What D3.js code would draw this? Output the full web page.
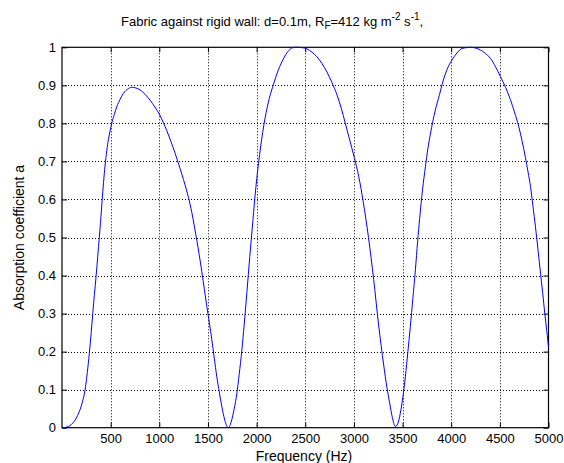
<!DOCTYPE html>
<html>
<head>
<meta charset="utf-8">
<script src="https://cdn.jsdelivr.net/npm/d3@7"></script>
<style>
  body { margin: 0; background: #fff; }
  svg { display: block; font-family: "Liberation Sans", Arial, sans-serif; }
</style>
</head>
<body>
<svg width="564" height="463"></svg>
<script>
// frequency (Hz) and absorption coefficient
var freq = [0, 25, 50, 80, 110, 135, 160, 185, 210, 237, 260, 281, 300, 316, 333, 350, 367, 384, 400, 412,
  427, 442, 460, 477, 495, 511, 537, 563, 597, 631, 675, 717, 760, 802, 855, 905, 955, 1001, 1040, 1077,
  1120, 1163, 1200, 1231, 1265, 1300, 1334, 1360, 1386, 1410, 1437, 1463, 1489, 1515, 1540, 1565, 1591, 1617, 1643, 1670,
  1690, 1711, 1730, 1746, 1770, 1797, 1821, 1849, 1872, 1900, 1930, 1962, 1990, 2037, 2088, 2130, 2174, 2215, 2260, 2300,
  2346, 2390, 2431, 2470, 2517, 2570, 2620, 2670, 2723, 2775, 2826, 2870, 2912, 2950, 3004, 3050, 3095, 3150, 3203, 3254,
  3306, 3340, 3368, 3395, 3426, 3450, 3477, 3503, 3529, 3555, 3580, 3606, 3632, 3655, 3676, 3705, 3735, 3760, 3786, 3837,
  3880, 3906, 3940, 3975, 4009, 4050, 4088, 4112, 4155, 4198, 4250, 4300, 4350, 4403, 4455, 4506, 4560, 4609, 4650, 4695,
  4730, 4763, 4790, 4815, 4840, 4866, 4892, 4918, 4940, 4962, 4982, 5000];
var absorption = [0, 0, 0.002, 0.005, 0.012, 0.02, 0.032, 0.047, 0.068, 0.099, 0.145, 0.196, 0.25, 0.30, 0.35, 0.397, 0.45, 0.502, 0.553, 0.597,
  0.645, 0.688, 0.728, 0.757, 0.781, 0.80, 0.823, 0.844, 0.863, 0.879, 0.890, 0.895, 0.893, 0.888, 0.876, 0.861, 0.843, 0.824, 0.803, 0.781,
  0.752, 0.721, 0.692, 0.667, 0.638, 0.605, 0.566, 0.53, 0.492, 0.455, 0.41, 0.364, 0.318, 0.275, 0.231, 0.183, 0.134, 0.093, 0.055, 0.023,
  0.006, 0, 0.008, 0.022, 0.05, 0.09, 0.14, 0.205, 0.27, 0.355, 0.45, 0.545, 0.625, 0.73, 0.815, 0.865, 0.903, 0.935, 0.962, 0.981,
  0.995, 1.0, 1.0, 0.999, 0.996, 0.987, 0.975, 0.958, 0.935, 0.907, 0.875, 0.84, 0.80, 0.763, 0.71, 0.66, 0.595, 0.50, 0.39, 0.27,
  0.165, 0.105, 0.064, 0.027, 0.003, 0.01, 0.038, 0.08, 0.134, 0.2, 0.266, 0.34, 0.415, 0.49, 0.55, 0.625, 0.686, 0.733, 0.772, 0.835,
  0.876, 0.902, 0.93, 0.952, 0.967, 0.982, 0.993, 0.997, 0.999, 1.0, 0.998, 0.993, 0.984, 0.971, 0.949, 0.923, 0.894, 0.862, 0.83, 0.791,
  0.752, 0.71, 0.672, 0.634, 0.583, 0.528, 0.468, 0.406, 0.355, 0.30, 0.255, 0.213];
var xTicks = [500, 1000, 1500, 2000, 2500, 3000, 3500, 4000, 4500, 5000];
var yTicks = [0, 0.1, 0.2, 0.3, 0.4, 0.5, 0.6, 0.7, 0.8, 0.9, 1];

var plotLeft = 62, plotRight = 548.5, plotTop = 47.3, plotBottom = 427.7;

var svg = d3.select('svg');
var x = d3.scaleLinear().domain([0, 5000]).range([plotLeft, plotRight]);
var y = d3.scaleLinear().domain([0, 1]).range([plotBottom, plotTop]);

// grid
var grid = svg.append('g').attr('stroke', '#000').attr('stroke-width', 1).attr('stroke-dasharray', '1,2');
grid.selectAll('.gx').data(xTicks.slice(0, -1)).enter().append('line')
  .attr('x1', function(d) { return Math.round(x(d)) + 0.5; })
  .attr('x2', function(d) { return Math.round(x(d)) + 0.5; })
  .attr('y1', plotTop).attr('y2', plotBottom);
grid.selectAll('.gy').data(yTicks.slice(1, -1)).enter().append('line')
  .attr('y1', function(d) { return Math.round(y(d)) + 0.5; })
  .attr('y2', function(d) { return Math.round(y(d)) + 0.5; })
  .attr('x1', plotLeft).attr('x2', plotRight);

// axes: ticks inside, on all four sides
var axB = svg.append('g').attr('transform', 'translate(0,' + plotBottom + ')')
  .call(d3.axisBottom(x).tickValues(xTicks).tickSizeInner(-5).tickSizeOuter(0).tickPadding(6).tickFormat(d3.format('d')));
var axT = svg.append('g').attr('transform', 'translate(0,' + plotTop + ')')
  .call(d3.axisTop(x).tickValues(xTicks).tickSizeInner(-5).tickSizeOuter(0).tickFormat(''));
var axL = svg.append('g').attr('transform', 'translate(' + plotLeft + ',0)')
  .call(d3.axisLeft(y).tickValues(yTicks).tickSizeInner(-5).tickSizeOuter(0).tickPadding(6).tickFormat(d3.format('~g')));
var axR = svg.append('g').attr('transform', 'translate(' + plotRight + ',0)')
  .call(d3.axisRight(y).tickValues(yTicks).tickSizeInner(-5).tickSizeOuter(0).tickFormat(''));
[axB, axT, axL, axR].forEach(function(a) {
  a.selectAll('.domain').remove();
  a.selectAll('line').attr('stroke', '#000');
  a.selectAll('text').attr('fill', '#000').style('font-size', '13px').style('font-family', '"Liberation Sans", Arial, sans-serif');
});

svg.append('rect').attr('x', plotLeft).attr('y', plotTop).attr('width', plotRight - plotLeft).attr('height', plotBottom - plotTop)
  .attr('fill', 'none').attr('stroke', '#000').attr('stroke-width', 1.2);

// curve
var line = d3.line().curve(d3.curveMonotoneX).x(function(d) { return x(d[0]); }).y(function(d) { return y(d[1]); });
svg.append('path').datum(d3.zip(freq, absorption))
  .attr('d', line).attr('fill', 'none').attr('stroke', '#0000ff').attr('stroke-width', 1);

// labels
svg.append('text').attr('x', 304).attr('y', 461).attr('text-anchor', 'middle')
  .style('font-size', '14px').text('Frequency (Hz)');
svg.append('text').attr('transform', 'translate(23.5,' + ((plotTop + plotBottom) / 2) + ') rotate(-90)')
  .attr('text-anchor', 'middle').style('font-size', '14px').text('Absorption coefficient a');

var title = svg.append('text').attr('x', 121).attr('y', 26).attr('text-anchor', 'start')
  .style('font-size', '13px');
title.append('tspan').text('Fabric against rigid wall: d=0.1m, R');
title.append('tspan').attr('dy', 3).style('font-size', '10px').text('F');
title.append('tspan').attr('dy', -3).text('=412 kg m');
title.append('tspan').attr('dy', -6).style('font-size', '10px').text('-2');
title.append('tspan').attr('dy', 6).text(' s');
title.append('tspan').attr('dy', -6).style('font-size', '10px').text('-1');
title.append('tspan').attr('dy', 6).text(',');
</script>
</body>
</html>
